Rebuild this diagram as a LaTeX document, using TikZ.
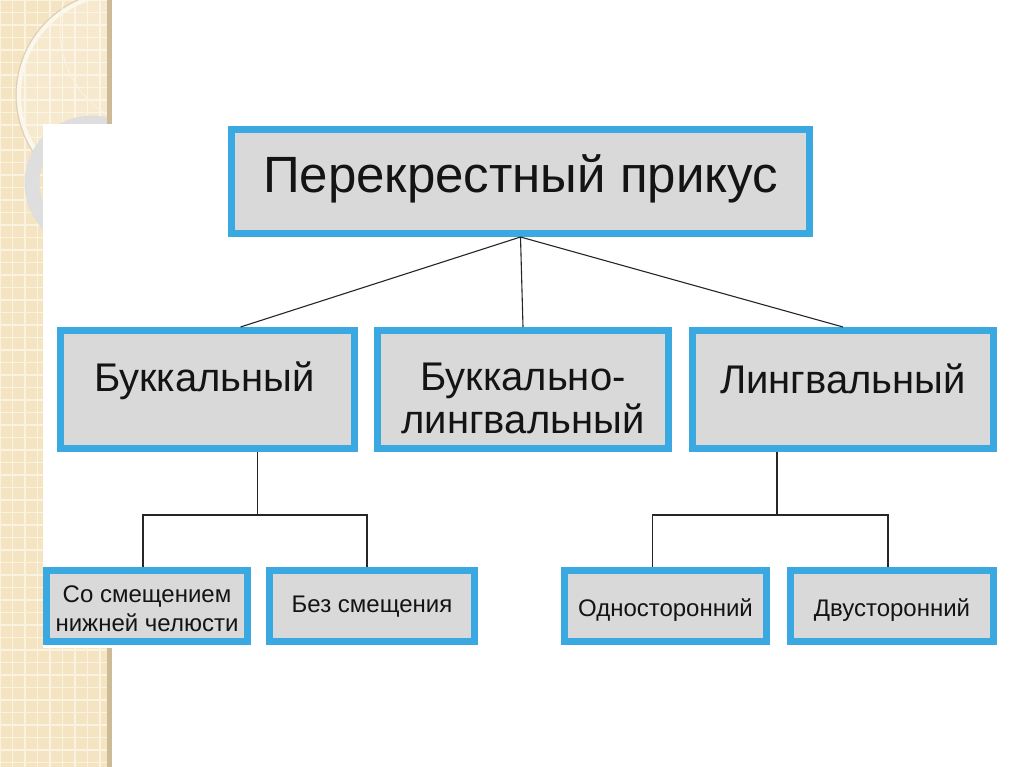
\documentclass[tikz,border=0pt]{standalone}
\usepackage{fontspec}
\setmainfont{Liberation Sans}
\begin{document}
\begin{tikzpicture}[x=1pt,y=-1pt,
  box/.style={draw=boxblue,line width=7pt,fill=boxgray,inner sep=0pt,anchor=north west},
  lbl/.style={text=black!92,align=center,inner sep=0pt},
  big/.style={font=\fontsize{51}{56}\selectfont},
  mid/.style={font=\fontsize{40}{43}\selectfont},
  small/.style={font=\fontsize{24}{29}\selectfont},
  conn/.style={draw=black!85,line width=1.1pt}]
\definecolor{boxblue}{HTML}{3BA9E1}
\definecolor{boxgray}{HTML}{D9D9D9}
\definecolor{beige}{HTML}{F4E4C2}
\definecolor{beigeline}{HTML}{FBF3E2}
\definecolor{shadowtan}{HTML}{CDBB98}
\useasboundingbox (0,0) rectangle (1024,767);
\fill[white] (0,0) rectangle (1024,767);
% left patterned strip
\fill[beige] (0,0) rectangle (110,767);
\begin{scope}
\clip (0,0) rectangle (110,767);
\foreach \i in {0,...,10} {\draw[beigeline,line width=1.2pt] (\i*12.5,0) -- (\i*12.5,767);}
\foreach \j in {0,...,62} {\draw[beigeline,line width=1.2pt] (0,\j*12.5) -- (110,\j*12.5);}
\fill[white,opacity=0.2] (120,95) circle (103);
\draw[white!70!beige,line width=4pt] (120,95) circle (101);
\draw[shadowtan!70!white,line width=1pt] (120,95) circle (104);
\draw[beigeline,line width=1pt] (160,30) circle (100);
\draw[black!13,line width=15pt] (92,183) circle (60);
\end{scope}
\fill[shadowtan] (107,0) rectangle (112,767);
\fill[white] (112,0) rectangle (1024,767);
% white panel
\fill[white] (43,124) rectangle (1024,648);
% boxes
\node[box,minimum width=578pt,minimum height=104pt] (top) at (228,126) {};
\node[box,minimum width=294pt,minimum height=118pt] (b) at (57,327) {};
\node[box,minimum width=291pt,minimum height=118pt] (bl) at (374,327) {};
\node[box,minimum width=301pt,minimum height=118pt] (l) at (689,327) {};
\node[box,minimum width=201pt,minimum height=71pt] (s1) at (43,567) {};
\node[box,minimum width=205pt,minimum height=71pt] (s2) at (266,567) {};
\node[box,minimum width=202pt,minimum height=71pt] (s3) at (561,567) {};
\node[box,minimum width=203pt,minimum height=71pt] (s4) at (787,567) {};
% labels
\node[lbl,big] (ttop) at ([yshift=3pt]top.center) {Перекрестный прикус};
\node[lbl,mid] (tb) at ([xshift=-3pt,yshift=9pt]b.center) {Буккальный};
\node[lbl,mid] (tbl) at ([xshift=0pt,yshift=-9pt]bl.center) {Буккально-\\лингвальный};
\node[lbl,mid] (tl) at ([yshift=11pt]l.center) {Лингвальный};
\node[lbl,small] (ts1) at ([yshift=-3pt]s1.center) {Со смещением\\нижней челюсти};
\node[lbl,small] (ts2) at ([yshift=-1pt]s2.center) {Без смещения};
\node[lbl,small] (ts3) at ([yshift=-4pt]s3.center) {Односторонний};
\node[lbl,small] (ts4) at ([yshift=-4pt]s4.center) {Двусторонний};
% connectors
\draw[conn] (top.south) -- ([xshift=33pt]b.north);
\draw[conn] (top.south) -- (bl.north);
\draw[conn] (top.south) -- (l.north);
\draw[conn] ([xshift=50pt]b.south) -- ++(0,63) coordinate (jb);
\draw[conn] ([xshift=-4pt]s1.north) |- (jb) -| ([xshift=-5pt]s2.north);
\draw[conn] ([xshift=-66pt]l.south) -- ++(0,63) coordinate (jl);
\draw[conn] ([xshift=-13pt]s3.north) |- (jl) -| ([xshift=-4pt]s4.north);
\end{tikzpicture}
\end{document}
